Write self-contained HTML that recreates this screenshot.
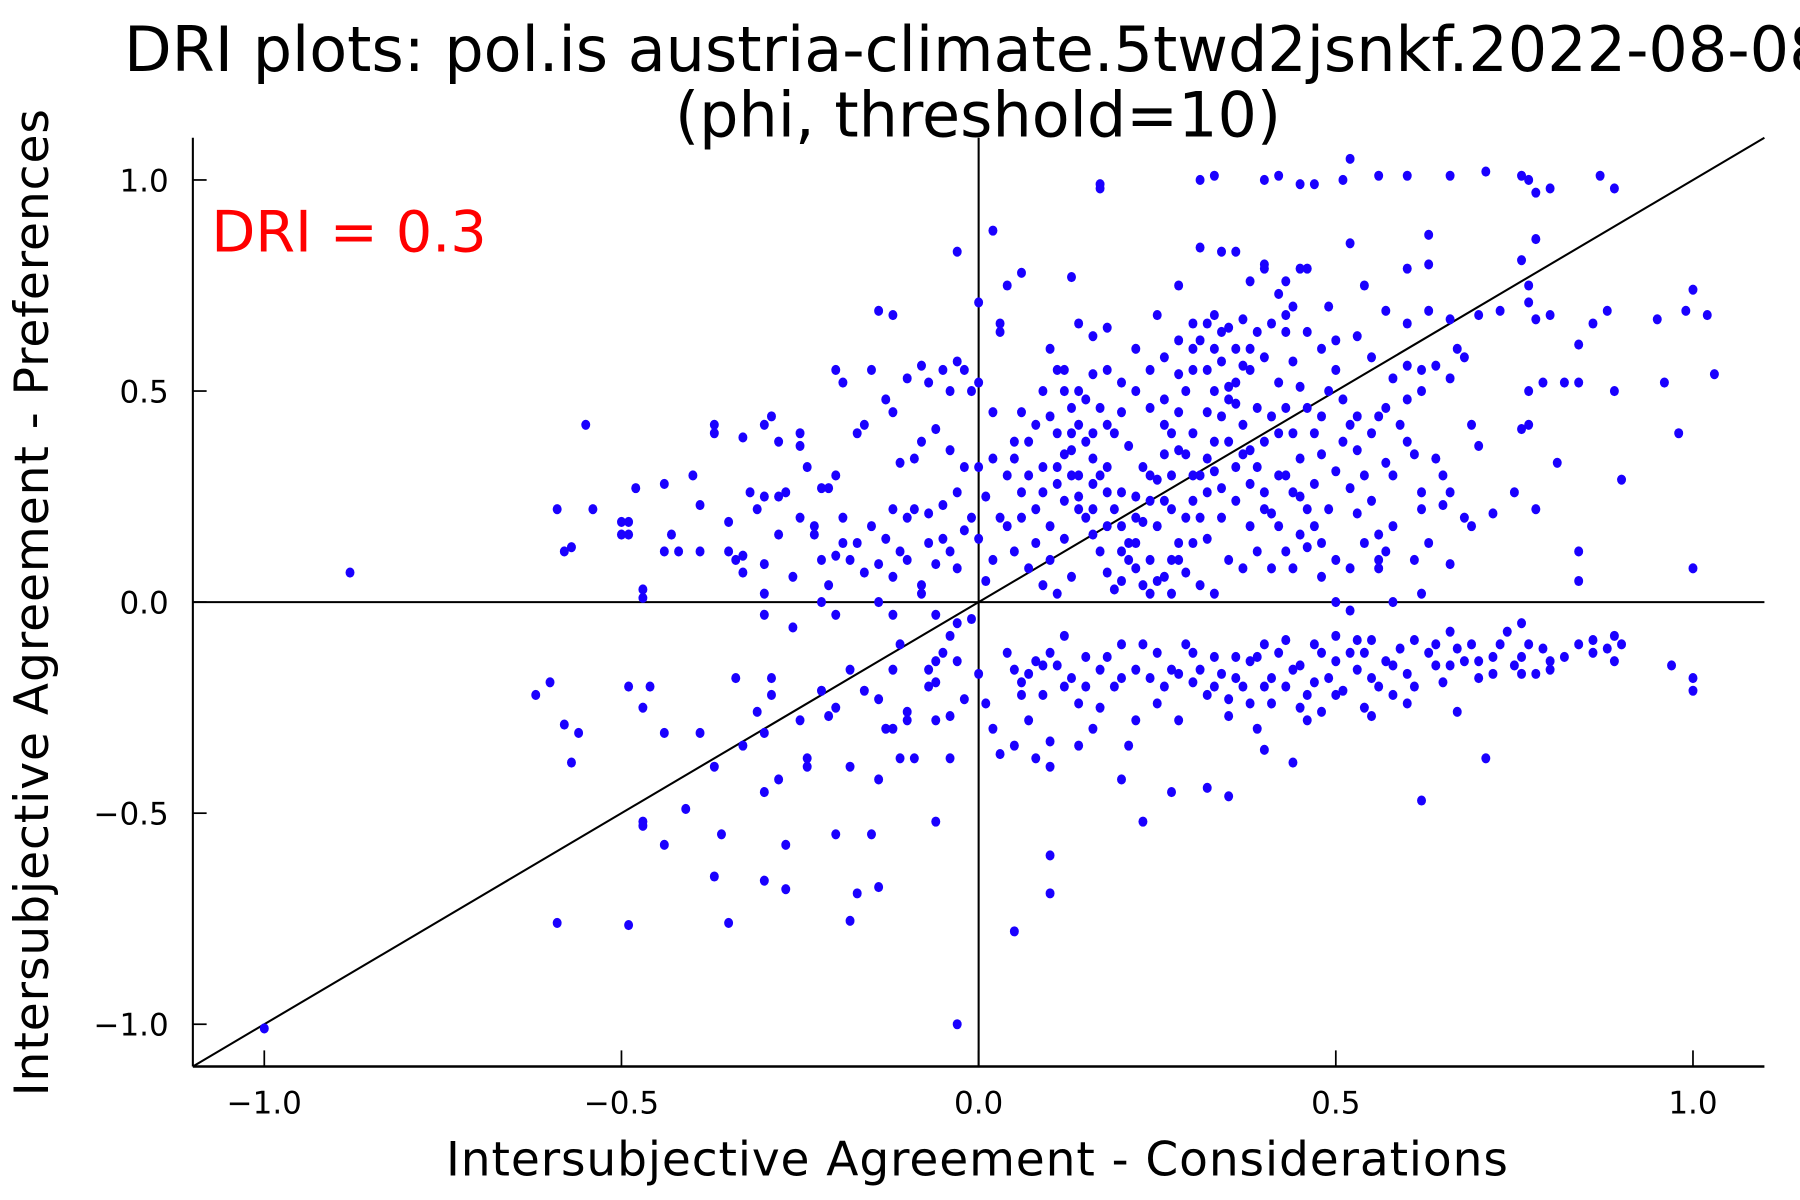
<!DOCTYPE html>
<html><head><meta charset="utf-8"><title>DRI plot</title>
<style>html,body{margin:0;padding:0;background:#fff}svg{display:block}</style></head>
<body>
<svg id="chart" xmlns="http://www.w3.org/2000/svg" width="1800" height="1200" viewBox="0 0 1568 1045.33" font-family="DejaVu Sans, Liberation Sans, sans-serif">
<rect width="1568" height="1045.33" fill="#fff"/>
<text x="108" y="62" font-size="54" fill="#000">DRI plots: pol.is austria-climate.5twd2jsnkf.2022-08-08</text>
<text x="852" y="119" font-size="54" fill="#000" text-anchor="middle" textLength="528">(phi, threshold=10)</text>
<text x="184" y="219" font-size="50" fill="#ff0000" textLength="240">DRI = 0.3</text>
<text x="851" y="1024" font-size="41" text-anchor="middle" textLength="925">Intersubjective Agreement - Considerations</text>
<text transform="translate(42,525) rotate(-90)" font-size="41" text-anchor="middle" textLength="860">Intersubjective Agreement - Preferences</text>
<g id="axes"></g>
<g id="points"></g>
</svg>
<script>
const xTicks = [-1.0, -0.5, 0.0, 0.5, 1.0];
const xTickLabels = ["\u22121.0", "\u22120.5", "0.0", "0.5", "1.0"];
const yTicks = [-1.0, -0.5, 0.0, 0.5, 1.0];
const yTickLabels = ["\u22121.0", "\u22120.5", "0.0", "0.5", "1.0"];
const domainMin = -1.1, domainMax = 1.1;
const pts = [
[-1.0,-1.01],[-0.88,0.07],[-0.03,-1.0],[0.05,-0.78],[0.1,-0.6],[0.1,-0.69],[-0.59,-0.76],[-0.49,-0.765],[-0.35,-0.76],[-0.18,-0.755],[-0.17,-0.69],[-0.37,-0.65],[-0.3,-0.66],[-0.27,-0.68],[-0.14,-0.675],[-0.44,-0.575],[-0.27,-0.575],[-0.2,-0.55],[-0.15,-0.55],[-0.36,-0.55],[-0.41,-0.49],[-0.47,-0.52],[-0.47,-0.53],[-0.37,-0.39],[-0.3,-0.45],[-0.28,-0.42],[-0.24,-0.39],[-0.24,-0.37],[-0.18,-0.39],[-0.14,-0.42],[-0.09,-0.37],[-0.11,-0.37],[-0.04,-0.37],[-0.06,-0.52],
[-0.62,-0.22],[-0.6,-0.19],[-0.58,-0.29],[-0.57,-0.38],[-0.56,-0.31],[-0.49,-0.2],[-0.47,-0.25],[-0.46,-0.2],[-0.44,-0.31],[-0.39,-0.31],[-0.33,-0.34],[-0.3,-0.31],[-0.29,-0.22],[-0.29,-0.18],[-0.31,-0.26],[-0.34,-0.18],[-0.25,-0.28],[-0.22,-0.21],[-0.21,-0.27],[-0.2,-0.25],[-0.18,-0.16],[-0.16,-0.21],[-0.12,-0.3],[-0.13,-0.3],[-0.14,-0.23],[-0.1,-0.28],[-0.1,-0.26],[-0.07,-0.2],[-0.06,-0.19],[-0.04,-0.27],[-0.06,-0.28],[-0.02,-0.23],[-0.03,-0.14],[-0.06,-0.14],[-0.05,-0.12],[-0.07,-0.16],[-0.11,-0.1],[-0.12,-0.16],[-0.04,-0.08],[-0.03,-0.05],[-0.01,-0.04],[0.0,-0.17],[0.01,-0.24],[0.02,-0.3],[0.03,-0.36],[0.04,-0.12],[0.05,-0.16],[0.05,-0.34],[0.06,-0.19],[0.06,-0.22],[0.07,-0.17],[0.08,-0.14],[0.09,-0.15],[0.09,-0.22],[0.1,-0.12],[0.1,-0.33],[0.1,-0.39],[0.08,-0.37],[0.11,-0.15],[0.12,-0.08],[0.13,-0.18],[0.14,-0.24],[0.14,-0.34],[0.15,-0.2],[0.16,-0.3],[0.17,-0.25],[0.18,-0.13],[0.19,-0.2],[0.2,-0.1],[0.2,-0.42],[0.21,-0.34],[0.22,-0.28],[0.22,-0.16],[0.23,-0.52],[0.24,-0.18],[0.25,-0.12],[0.26,-0.2],[0.27,-0.16],[0.27,-0.45],[0.28,-0.28],[0.29,-0.1],[0.3,-0.19],[0.31,-0.16],[0.32,-0.22],[0.32,-0.44],[0.33,-0.13],[0.34,-0.17],[0.35,-0.27],[0.35,-0.46],[0.36,-0.13],[0.37,-0.2],[0.38,-0.14],[0.39,-0.3],[0.4,-0.1],[0.4,-0.35],[0.41,-0.18],[0.42,-0.12],[0.43,-0.2],[0.44,-0.38],[0.45,-0.15],[0.46,-0.22],[0.46,-0.28],[0.47,-0.1],[0.48,-0.26],[0.49,-0.18],[0.5,-0.08],[0.51,-0.21],[0.52,-0.12],[0.53,-0.16],[0.54,-0.25],[0.55,-0.09],[0.56,-0.2],[0.57,-0.14],[0.58,-0.22],[0.59,-0.11],[0.6,-0.17],[0.61,-0.09],[0.62,-0.47],[0.63,-0.12],[0.64,-0.1],[0.65,-0.19],[0.66,-0.07],[0.67,-0.26],[0.68,-0.14],[0.69,-0.1],[0.7,-0.18],[0.71,-0.37],[0.72,-0.13],[0.74,-0.07],[0.75,-0.15],[0.76,-0.05],[0.77,-0.1],[0.78,-0.17],[0.8,-0.16],[0.84,-0.1],[0.86,-0.09],[0.88,-0.11],[0.89,-0.14],[0.9,-0.1],[0.97,-0.15],[1.0,-0.18],[1.0,-0.21],
[0.3,-0.12],[0.33,-0.2],[0.36,-0.18],[0.39,-0.13],[0.41,-0.24],[0.44,-0.16],[0.47,-0.19],[0.5,-0.14],[0.53,-0.09],[0.55,-0.18],[0.58,-0.15],[0.61,-0.2],[0.64,-0.15],[0.67,-0.11],[0.7,-0.14],[0.73,-0.1],[0.76,-0.13],[0.79,-0.11],[0.82,-0.13],[0.86,-0.12],[0.89,-0.08],[0.6,-0.24],[0.55,-0.27],[0.5,-0.22],[0.45,-0.25],[0.4,-0.2],[0.35,-0.23],[0.25,-0.24],[0.2,-0.18],[0.15,-0.13],[0.12,-0.2],[0.07,-0.28],[0.17,-0.16],[0.23,-0.1],[0.28,-0.17],[0.43,-0.09],[0.48,-0.12],[0.38,-0.24],[0.54,-0.12],[0.66,-0.15],[0.72,-0.17],[0.8,-0.14],[0.76,-0.17],
[0.17,0.98],[0.17,0.99],[0.31,1.0],[0.33,1.01],[0.4,1.0],[0.42,1.01],[0.45,0.99],[0.47,0.99],[0.51,1.0],[0.52,1.05],[0.56,1.01],[0.6,1.01],[0.66,1.01],[0.71,1.02],[0.76,1.01],[0.77,1.0],[0.78,0.97],[0.8,0.98],[0.87,1.01],[0.89,0.98],
[0.02,0.88],[-0.03,0.83],[0.0,0.71],[0.04,0.75],[0.06,0.78],[0.03,0.66],[0.03,0.64],[0.13,0.77],[0.14,0.66],[0.16,0.63],[0.18,0.65],[0.25,0.68],[0.28,0.75],[0.31,0.84],[0.34,0.83],[0.36,0.83],[0.4,0.79],[0.4,0.8],[0.38,0.76],[0.43,0.76],[0.45,0.79],[0.46,0.79],[0.52,0.85],[0.54,0.75],[0.57,0.69],[0.6,0.79],[0.63,0.8],[0.63,0.87],[0.76,0.81],[0.77,0.75],[0.78,0.86],[0.95,0.67],[0.99,0.69],[1.0,0.74],[1.02,0.68],[0.88,0.69],[0.84,0.61],[0.8,0.68],[0.77,0.71],[0.78,0.67],[0.73,0.69],[0.66,0.67],[0.63,0.69],[0.67,0.6],[0.68,0.58],[1.03,0.54],[0.96,0.52],[0.89,0.5],[0.86,0.66],[0.82,0.52],[0.84,0.52],[0.79,0.52],[0.77,0.5],[0.76,0.41],[0.77,0.42],[0.98,0.4],[0.81,0.33],[0.9,0.29],[0.75,0.26],[0.78,0.22],[0.72,0.21],[0.68,0.2],[0.69,0.18],[0.84,0.12],[0.84,0.05],[1.0,0.08],[0.66,0.09],[0.69,0.42],[0.7,0.37],[0.66,0.53],[0.64,0.56],[0.62,0.55],[0.6,0.56],[0.58,0.53],[0.57,0.46],[0.62,0.5],[0.6,0.48],[0.56,0.44],[0.6,0.38],[0.58,0.3],[0.62,0.26],[0.64,0.34],[0.65,0.3],[0.62,0.22],[0.61,0.1],[0.58,0.18],[0.56,0.16],[0.53,0.21],[0.52,0.27],[0.5,0.31],[0.48,0.35],[0.47,0.28],[0.46,0.22],[0.45,0.16],[0.44,0.08],[0.43,0.12],[0.42,0.18],[0.41,0.21],[0.4,0.26],[0.39,0.32],[0.38,0.36],[0.37,0.42],[0.36,0.47],[0.35,0.51],[0.34,0.57],[0.33,0.6],[0.32,0.66],[0.31,0.62],[0.3,0.55],[0.29,0.5],[0.28,0.45],[0.27,0.4],[0.26,0.35],[0.25,0.29],[0.24,0.24],[0.23,0.19],[0.22,0.14],[0.21,0.1],[0.2,0.05],[0.19,0.03],[0.18,0.07],[0.17,0.12],[0.16,0.16],[0.15,0.2],[0.14,0.25],[0.13,0.3],[0.12,0.35],[0.11,0.4],[0.1,0.44],[0.09,0.5],[0.1,0.6],[0.11,0.55],[0.12,0.5],[0.13,0.46],[0.14,0.42],[0.15,0.38],[0.16,0.34],[0.17,0.3],[0.18,0.26],[0.19,0.22],[0.2,0.18],[0.21,0.14],[0.22,0.08],[0.23,0.04],[0.24,0.02],[0.26,0.06],[0.27,0.1],[0.28,0.14],[0.29,0.2],[0.3,0.24],[0.31,0.3],[0.32,0.34],[0.33,0.38],[0.34,0.44],[0.35,0.48],[0.36,0.52],[0.37,0.56],[0.38,0.6],[0.39,0.64],[0.41,0.66],[0.43,0.64],[0.44,0.57],[0.45,0.51],[0.46,0.46],[0.47,0.4],[0.48,0.44],[0.49,0.5],[0.5,0.55],[0.51,0.48],[0.52,0.42],[0.53,0.36],[0.54,0.3],[0.55,0.24],[0.56,0.1],[0.57,0.12],[0.5,0.1],[0.48,0.06],[0.46,0.13],[0.41,0.08],[0.39,0.12],[0.37,0.08],[0.35,0.1],[0.33,0.02],[0.31,0.04],[0.29,0.07],[0.27,0.02],[0.25,0.05],[0.24,0.1],[0.22,0.2],[0.2,0.26],[0.18,0.32],[0.16,0.4],[0.14,0.5],[0.12,0.55],[0.16,0.54],[0.18,0.55],[0.2,0.52],[0.22,0.6],[0.24,0.55],[0.26,0.58],[0.28,0.62],[0.3,0.66],[0.33,0.68],[0.35,0.65],[0.37,0.67],[0.4,0.58],[0.42,0.52],[0.43,0.46],[0.44,0.4],[0.45,0.34],[0.42,0.3],[0.4,0.22],[0.38,0.18],[0.36,0.24],[0.34,0.2],[0.32,0.26],[0.3,0.3],[0.28,0.36],[0.26,0.42],[0.24,0.46],[0.22,0.5],[0.2,0.45],[0.18,0.42],[0.16,0.28],[0.14,0.22],[0.12,0.15],[0.1,0.18],[0.08,0.22],[0.06,0.26],[0.04,0.3],[0.02,0.34],[0.03,0.2],[0.05,0.12],[0.07,0.08],[0.09,0.04],[0.11,0.02],[0.13,0.06],[0.05,0.38],[0.07,0.38],[0.08,0.42],[0.06,0.45],[0.09,0.32],[0.11,0.28],[0.13,0.36],[0.04,0.18],[0.02,0.1],[0.01,0.05],[0.0,0.15],[0.01,0.25],[0.0,0.32],[0.02,0.45],[0.0,0.52],
[-0.01,0.5],[-0.02,0.55],[-0.03,0.57],[-0.05,0.55],[-0.04,0.5],[-0.07,0.52],[-0.08,0.56],[-0.1,0.53],[-0.12,0.45],[-0.13,0.48],[-0.16,0.42],[-0.17,0.4],[-0.19,0.52],[-0.2,0.55],[-0.15,0.55],[-0.14,0.69],[-0.12,0.68],[-0.06,0.41],[-0.08,0.38],[-0.09,0.34],[-0.11,0.33],[-0.04,0.36],[-0.02,0.32],[-0.03,0.26],[-0.05,0.23],[-0.07,0.21],[-0.09,0.22],[-0.1,0.2],[-0.12,0.22],[-0.13,0.15],[-0.15,0.18],[-0.17,0.14],[-0.19,0.2],[-0.2,0.3],[-0.22,0.27],[-0.24,0.32],[-0.25,0.37],[-0.25,0.4],[-0.21,0.27],[-0.23,0.16],[-0.25,0.2],[-0.27,0.26],[-0.28,0.25],[-0.3,0.25],[-0.31,0.22],[-0.32,0.26],[-0.3,0.42],[-0.29,0.44],[-0.28,0.38],[-0.33,0.39],[-0.35,0.19],[-0.37,0.42],[-0.37,0.4],[-0.39,0.23],[-0.4,0.3],[-0.39,0.12],[-0.42,0.12],[-0.44,0.12],[-0.44,0.28],[-0.49,0.16],[-0.5,0.19],[-0.49,0.19],[-0.47,0.03],[-0.47,0.01],[-0.48,0.27],[-0.55,0.42],[-0.54,0.22],[-0.59,0.22],[-0.58,0.12],[-0.57,0.13],[-0.35,0.12],[-0.34,0.1],[-0.33,0.07],[-0.3,0.09],[-0.3,0.02],[-0.28,0.16],[-0.26,0.06],[-0.23,0.18],[-0.22,0.1],[-0.21,0.04],[-0.22,-0.0],[-0.2,0.11],[-0.18,0.1],[-0.16,0.07],[-0.14,0.09],[-0.12,0.06],[-0.1,0.1],[-0.08,0.04],[-0.06,0.09],[-0.04,0.12],[-0.02,0.17],[-0.01,0.2],[-0.03,0.08],[-0.05,0.15],[-0.07,0.14],[-0.11,0.12],[-0.14,0.0],[-0.12,-0.03],[-0.08,0.02],[-0.06,-0.03],[-0.2,-0.03],[-0.19,0.14],[-0.3,-0.03],[-0.26,-0.06],[-0.33,0.11],[-0.43,0.16],[-0.5,0.16],
[0.5,0.0],[0.52,-0.02],[0.56,0.08],[0.58,0.0],[0.62,0.02],[0.63,0.14],[0.65,0.23],[0.66,0.26],[0.7,0.68],[0.6,0.66],[0.55,0.58],[0.53,0.63],[0.5,0.62],[0.49,0.7],[0.48,0.6],[0.46,0.64],[0.44,0.7],[0.43,0.68],[0.42,0.73],[0.38,0.55],[0.36,0.6],[0.33,0.5],[0.32,0.45],[0.3,0.4],[0.29,0.35],[0.27,0.3],[0.26,0.24],[0.25,0.18],[0.28,0.1],[0.3,0.14],[0.32,0.15],[0.34,0.27],[0.36,0.32],[0.38,0.28],[0.4,0.38],[0.41,0.44],[0.43,0.3],[0.45,0.25],[0.47,0.18],[0.49,0.22],[0.51,0.38],[0.53,0.44],[0.55,0.4],[0.57,0.33],[0.59,0.42],[0.61,0.35],[0.54,0.14],[0.52,0.08],[0.48,0.14],[0.44,0.26],[0.42,0.4],[0.39,0.46],[0.37,0.35],[0.35,0.38],[0.33,0.31],[0.31,0.2],[0.27,0.22],[0.23,0.32],[0.21,0.37],[0.19,0.4],[0.17,0.46],[0.15,0.48],[0.13,0.4],[0.11,0.32],[0.09,0.26],[0.07,0.3],[0.05,0.34],[0.06,0.2],[0.08,0.14],[0.1,0.1],[0.12,0.24],[0.14,0.3],[0.16,0.22],[0.18,0.18],[0.2,0.12],[0.22,0.25],[0.24,0.3],[0.26,0.48],[0.28,0.54],[0.3,0.6],[0.32,0.55],[0.34,0.64]
];
const xValues = pts.map(p => p[0]);
const yValues = pts.map(p => p[1]);

const L = 168, R = 1537, T = 120, B = 929;
function sx(v){ return L + (v - domainMin) / (domainMax - domainMin) * (R - L); }
function sy(v){ return B - (v - domainMin) / (domainMax - domainMin) * (B - T); }
const NS = "http://www.w3.org/2000/svg";
function mk(tag, attrs, parent){ const e = document.createElementNS(NS, tag); for (const k in attrs) e.setAttribute(k, attrs[k]); parent.appendChild(e); return e; }
const axes = document.getElementById('axes');
let e;
e = mk('line', {x1:sx(0), y1:T, x2:sx(0), y2:B, stroke:'#000', 'stroke-width':1.8}, axes);


e = mk('line', {x1:L, y1:sy(0), x2:R, y2:sy(0), stroke:'#000', 'stroke-width':1.8}, axes);


e = mk('line', {x1:sx(domainMin), y1:sy(domainMin), x2:sx(domainMax), y2:sy(domainMax), stroke:'#000', 'stroke-width':1.8}, axes);


e = mk('line', {x1:L, y1:T, x2:L, y2:B, stroke:'#000', 'stroke-width':1.8}, axes);


e = mk('line', {x1:L, y1:B, x2:R, y2:B, stroke:'#000', 'stroke-width':2.2}, axes);


xTicks.forEach((t, i) => {
  const tk = mk('line', {x1:sx(t), y1:B, x2:sx(t), y2:B-14, stroke:'#000', 'stroke-width':1.5}, axes);
  
  
  const lb = mk('text', {x:sx(t), y:970, 'font-size':27, 'text-anchor':'middle'}, axes);
  lb.textContent = xTickLabels[i];
  
  
});
yTicks.forEach((t, i) => {
  const tk = mk('line', {x1:L, y1:sy(t), x2:L+12, y2:sy(t), stroke:'#000', 'stroke-width':1.5}, axes);
  
  
  const lb = mk('text', {x:147, y:sy(t)+10, 'font-size':27, 'text-anchor':'end'}, axes);
  lb.textContent = yTickLabels[i];
  
  
});
const g = document.getElementById('points');
xValues.forEach((x, i) => {
  const c = mk('ellipse', {cx:sx(x), cy:sy(yValues[i]), rx:3.9, ry:4.4, fill:'#1a00ff'}, g);
  
  
});
</script>
</body></html>
